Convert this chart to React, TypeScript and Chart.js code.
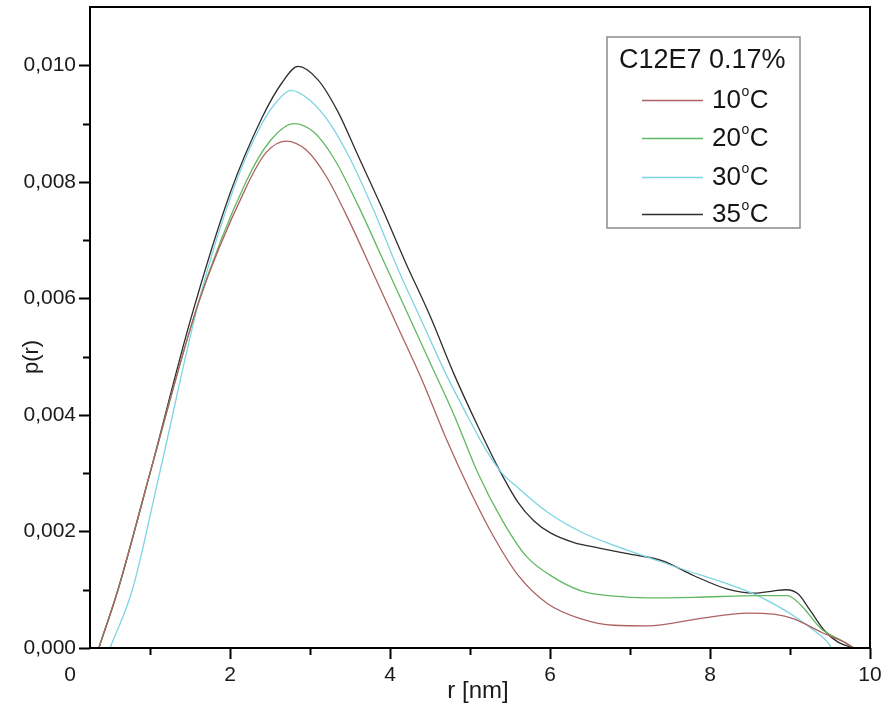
import React, { useEffect, useRef } from "react";
import { Chart, registerables } from "chart.js";

Chart.register(...registerables);

// ---- data ----
const r10 = [0.36, 0.6, 1.0, 1.6, 2.2, 2.45, 2.7, 2.95, 3.2, 3.5, 3.8, 4.1, 4.4, 4.7, 5.0, 5.3, 5.6, 5.97, 6.39, 6.8, 7.22, 7.85, 8.47, 8.8, 9.05, 9.39, 9.68, 9.8];
const p10 = [0, 0.001, 0.003, 0.0059, 0.0079, 0.0085, 0.0087, 0.00855, 0.0081, 0.0073, 0.0064, 0.0055, 0.0046, 0.0036, 0.0027, 0.0019, 0.00125, 0.00076, 0.0005, 0.00039, 0.00038, 0.0005, 0.0006, 0.00058, 0.0005, 0.00027, 0.0001, 0];

const r20 = [0.36, 0.6, 1.0, 1.6, 2.2, 2.5, 2.8, 3.05, 3.3, 3.6, 3.9, 4.2, 4.5, 4.8, 5.1, 5.4, 5.7, 6.0, 6.39, 6.8, 7.22, 7.8, 8.64, 8.97, 9.14, 9.39, 9.64, 9.8];
const p20 = [0, 0.001, 0.003, 0.0059, 0.008, 0.0087, 0.009, 0.00885, 0.0084, 0.0076, 0.0067, 0.0058, 0.0049, 0.004, 0.003, 0.0022, 0.00158, 0.00125, 0.00098, 0.00089, 0.00086, 0.00087, 0.0009, 0.0009, 0.00073, 0.00033, 0.00013, 0];

const r30 = [0.5, 0.78, 1.12, 1.62, 2.05, 2.4, 2.6, 2.76, 3.0, 3.25, 3.5, 3.8, 4.1, 4.4, 4.7, 5.0, 5.2, 5.4, 5.6, 5.97, 6.39, 6.8, 7.22, 7.64, 8.22, 8.64, 9.05, 9.3, 9.47, 9.52];
const p30 = [0, 0.001, 0.003, 0.006, 0.0079, 0.009, 0.0094, 0.00957, 0.0094, 0.009, 0.0084, 0.0075, 0.0065, 0.0056, 0.0047, 0.0039, 0.0034, 0.003, 0.00275, 0.00233, 0.00199, 0.00176, 0.00156, 0.00136, 0.0011, 0.00087, 0.00055, 0.0003, 0.0001, 0];

const r35 = [0.36, 0.6, 1.0, 1.5, 2.0, 2.4, 2.65, 2.85, 3.1, 3.35, 3.6, 3.9, 4.2, 4.5, 4.8, 5.1, 5.35, 5.6, 5.8, 6.0, 6.3, 6.6, 7.0, 7.4, 7.8, 8.22, 8.55, 8.8, 8.95, 9.1, 9.25, 9.43, 9.6, 9.8];
const p35 = [0, 0.001, 0.003, 0.0056, 0.0078, 0.0091, 0.0097, 0.00998, 0.00975, 0.0092, 0.00845, 0.00755, 0.0066, 0.0057, 0.0047, 0.0038, 0.0031, 0.0025, 0.00218, 0.00198, 0.00181, 0.00172, 0.00161, 0.0015, 0.00124, 0.00101, 0.00094, 0.00098, 0.001, 0.00093, 0.00065, 0.0003, 0.0001, 0];

const seriesTemps = ["10", "20", "30", "35"];
const seriesColors = ["#ad6262", "#62b862", "#7dd4e4", "#2e2e2e"];
const legendTitle = "C12E7 0.17%";
const xTitle = "r [nm]";
const yTitle = "p(r)";
const xTickValues = [0, 1, 2, 3, 4, 5, 6, 7, 8, 9, 10];
const yTickValues = [0, 0.001, 0.002, 0.003, 0.004, 0.005, 0.006, 0.007, 0.008, 0.009, 0.01];
const xMin = 0.25;
const xMax = 10;
const yMin = 0;
const yMax = 0.011;

const FONT = "'Liberation Sans', Arial, sans-serif";

const toPoints = (rs: number[], ps: number[]) => rs.map((r, i) => ({ x: r, y: ps[i] }));

const framePlugin = {
  id: "frame",
  afterDraw(chart: any) {
    const { ctx, chartArea: a, scales } = chart;
    const xs = scales.x;
    const ys = scales.y;
    ctx.save();
    // frame
    ctx.strokeStyle = "#000";
    ctx.lineWidth = 2;
    ctx.strokeRect(a.left, a.top, a.right - a.left, a.bottom - a.top);
    // ticks
    ctx.beginPath();
    xTickValues.forEach((v) => {
      if (v < xs.min) return;
      const px = Math.round(xs.getPixelForValue(v)) + 0.5;
      const len = Math.round(v) % 2 === 0 ? 11 : 7;
      ctx.moveTo(px, a.bottom);
      ctx.lineTo(px, a.bottom + len);
    });
    yTickValues.forEach((v) => {
      const py = Math.round(ys.getPixelForValue(v)) + 0.5;
      const len = Math.round(v * 1000) % 2 === 0 ? 11 : 7;
      ctx.moveTo(a.left, py);
      ctx.lineTo(a.left - len, py);
    });
    ctx.stroke();

    // axis titles
    ctx.fillStyle = "#1a1a1a";
    ctx.font = `24px ${FONT}`;
    ctx.textAlign = "center";
    ctx.textBaseline = "middle";
    ctx.fillText(xTitle, (a.left + a.right) / 2 - 2, 691);
    ctx.save();
    ctx.translate(32, 357);
    ctx.rotate(-Math.PI / 2);
    ctx.font = `22px ${FONT}`;
    ctx.fillText(yTitle, 0, 0);
    ctx.restore();

    // legend
    const bx = 607, by = 37, bw = 193, bh = 191;
    ctx.fillStyle = "#fff";
    ctx.fillRect(bx, by, bw, bh);
    ctx.strokeStyle = "#8c8c8c";
    ctx.lineWidth = 1.5;
    ctx.strokeRect(bx, by, bw, bh);
    ctx.fillStyle = "#151515";
    ctx.textAlign = "left";
    ctx.textBaseline = "middle";
    ctx.font = `27px ${FONT}`;
    ctx.fillText(legendTitle, 619, 61);
    const itemYs = [100, 138, 177, 214];
    seriesTemps.forEach((t, i) => {
      const y = itemYs[i];
      ctx.strokeStyle = seriesColors[i];
      ctx.lineWidth = 1.3;
      ctx.beginPath();
      ctx.moveTo(642, y + 0.5);
      ctx.lineTo(703, y + 0.5);
      ctx.stroke();
      ctx.fillStyle = "#151515";
      ctx.font = `26px ${FONT}`;
      ctx.fillText(t, 712, y + 1);
      const w = ctx.measureText(t).width;
      ctx.font = `14px ${FONT}`;
      ctx.fillText("o", 712 + w + 0.5, y - 8);
      const ow = ctx.measureText("o").width;
      ctx.font = `26px ${FONT}`;
      ctx.fillText("C", 712 + w + ow + 1, y + 1);
    });
    ctx.restore();
  },
};

export default function App() {
  const ref = useRef<HTMLCanvasElement | null>(null);
  useEffect(() => {
    if (!ref.current) return;
    const seriesData = [toPoints(r10, p10), toPoints(r20, p20), toPoints(r30, p30), toPoints(r35, p35)];
    const chart = new Chart(ref.current, {
      type: "line",
      data: {
        datasets: seriesData.map((d, i) => ({
          label: `${seriesTemps[i]}°C`,
          data: d,
          borderColor: seriesColors[i],
          borderWidth: 1.3,
          pointRadius: 0,
          fill: false,
          cubicInterpolationMode: "monotone" as const,
        })),
      },
      options: {
        responsive: false,
        animation: false,
        events: [],
        layout: { padding: { left: 0, right: 18, top: 7, bottom: 0 } },
        plugins: { legend: { display: false }, tooltip: { enabled: false }, title: { display: false } },
        scales: {
          x: {
            type: "linear",
            min: xMin,
            max: xMax,
            grid: { display: false, drawTicks: false },
            border: { display: false },
            afterBuildTicks: (scale: any) => {
              scale.ticks = xTickValues.map((v) => ({ value: v }));
            },
            afterFit: (scale: any) => {
              scale.height = 58;
              scale.paddingLeft = 0;
              scale.paddingRight = 0;
            },
            ticks: {
              autoSkip: false,
              maxRotation: 0,
              padding: 15,
              color: "#1a1a1a",
              font: { family: FONT, size: 21 },
              callback: (v: any) => (Math.round(v) % 2 === 0 ? String(Math.round(v)) : ""),
            },
          },
          y: {
            type: "linear",
            min: yMin,
            max: yMax,
            grid: { display: false, drawTicks: false },
            border: { display: false },
            afterBuildTicks: (scale: any) => {
              scale.ticks = yTickValues.map((v) => ({ value: v }));
            },
            afterFit: (scale: any) => {
              scale.width = 90;
              scale.paddingTop = 0;
              scale.paddingBottom = 0;
            },
            ticks: {
              autoSkip: false,
              padding: 14,
              color: "#1a1a1a",
              font: { family: FONT, size: 21 },
              callback: (v: any) =>
                Math.round(Number(v) * 1000) % 2 === 0 ? Number(v).toFixed(3).replace(".", ",") : "",
            },
          },
        },
      },
      plugins: [framePlugin],
    });
    return () => chart.destroy();
  }, []);
  return (
    <div style={{ position: "fixed", left: 0, top: 0, width: 888, height: 706, background: "#fff" }}>
      <canvas ref={ref} width={888} height={706} style={{ display: "block" }} />
    </div>
  );
}
